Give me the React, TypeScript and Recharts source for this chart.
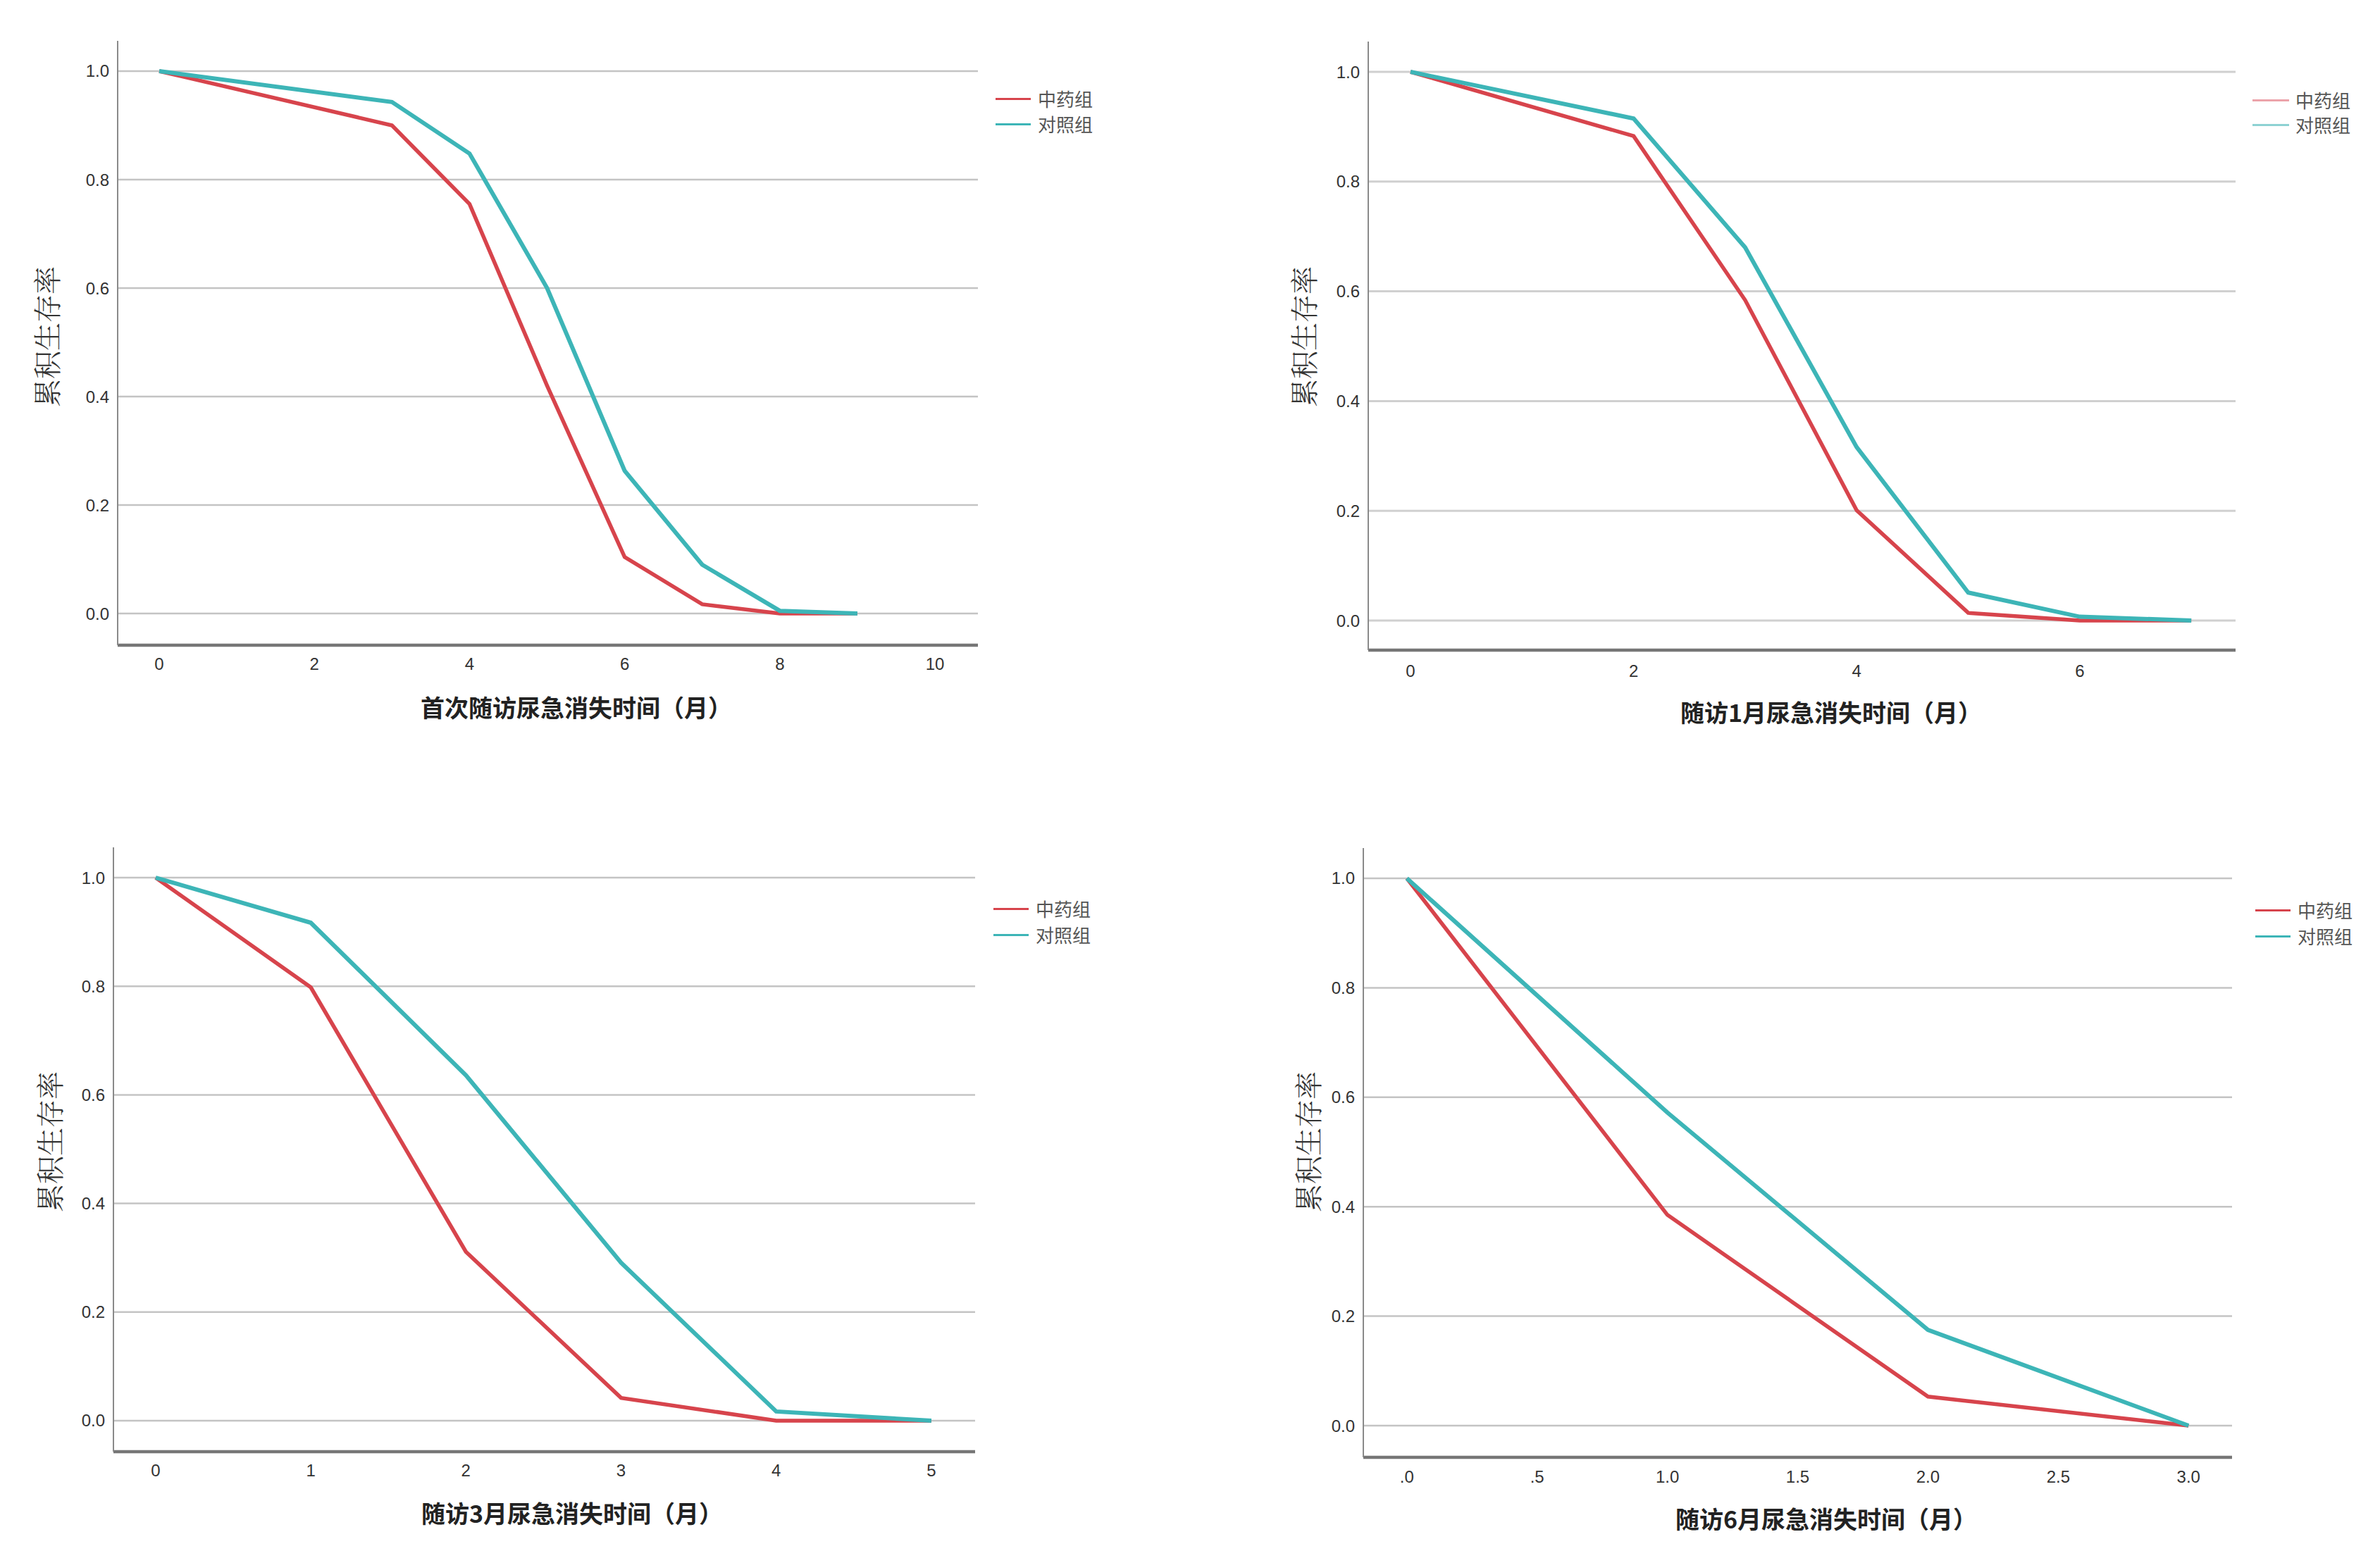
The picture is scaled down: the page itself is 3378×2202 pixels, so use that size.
import { LineChart, Line, XAxis, YAxis, ReferenceLine } from 'recharts';

const RED = '#d7444c';
const TEAL = '#3db5b7';
const groupNames = ['中药组', '对照组'];
const yTicks = [0, 0.2, 0.4, 0.6, 0.8, 1.0];

// 首次随访
const firstTimes = [0, 3, 4, 5, 6, 7, 8, 9];
const firstHerb = [1.0, 0.9, 0.755, 0.42, 0.104, 0.017, 0, 0];
const firstCtrl = [1.0, 0.943, 0.848, 0.6, 0.263, 0.09, 0.005, 0];
const firstTicks = [0, 2, 4, 6, 8, 10];

// 随访1月
const m1Times = [0, 2, 3, 4, 5, 6, 7];
const m1Herb = [1.0, 0.883, 0.584, 0.201, 0.014, 0, 0];
const m1Ctrl = [1.0, 0.915, 0.68, 0.316, 0.051, 0.007, 0];
const m1Ticks = [0, 2, 4, 6];

// 随访3月
const m3Times = [0, 1, 2, 3, 4, 5];
const m3Herb = [1.0, 0.798, 0.311, 0.042, 0, 0];
const m3Ctrl = [1.0, 0.917, 0.636, 0.291, 0.017, 0];
const m3Ticks = [0, 1, 2, 3, 4, 5];

// 随访6月
const m6Times = [0, 1, 2, 3];
const m6Herb = [1.0, 0.385, 0.053, 0];
const m6Ctrl = [1.0, 0.572, 0.175, 0];
const m6Ticks = [0, 0.5, 1, 1.5, 2, 2.5, 3];

const W = 1689;
const H = 1101;
const X_AXIS_H = 60;
const tickFont = { fill: '#333', fontSize: 24, fontFamily: '"Liberation Sans", Arial, sans-serif' };

const intFmt = (v: number) => String(v);
const halfFmt = (v: number) => (v < 1 ? (v === 0 ? '.0' : '.5') : v.toFixed(1));

const panels = [
  {
    left: 0, top: 0, times: firstTimes, herb: firstHerb, ctrl: firstCtrl,
    xTicks: firstTicks, xDomain: [-0.536, 10.554], yDomain: [-0.0584, 1.0558], xFmt: intFmt,
    margin: { left: 87, right: 301, top: 58, bottom: 125 }, xTickMargin: 18,
    title: '首次随访尿急消失时间（月）', xTitle: [818, 1004], yTitle: [65, 478],
    legend: { x: 1413, len: 50, text: 1473, y: 140, gap: 36 }, legendColors: [RED, TEAL],
    grid: '#c4c4c4', gridW: 2.5,
  },
  {
    left: W, top: 0, times: m1Times, herb: m1Herb, ctrl: m1Ctrl,
    xTicks: m1Ticks, xDomain: [-0.379, 7.397], yDomain: [-0.0539, 1.0552], xFmt: intFmt,
    margin: { left: 173, right: 205, top: 59, bottom: 118 }, xTickMargin: 21,
    title: '随访1月尿急消失时间（月）', xTitle: [910, 1011], yTitle: [160, 478],
    legend: { x: 1508, len: 52, text: 1569, y: 142, gap: 35 }, legendColors: ['#eca3aa', '#8ed2d3'],
    grid: '#d0d0d0', gridW: 3,
  },
  {
    left: 0, top: H, times: m3Times, herb: m3Herb, ctrl: m3Ctrl,
    xTicks: m3Ticks, xDomain: [-0.272, 5.282], yDomain: [-0.0571, 1.0558], xFmt: intFmt,
    margin: { left: 81, right: 305, top: 102, bottom: 81 }, xTickMargin: 18,
    title: '随访3月尿急消失时间（月）', xTitle: [812, 1047], yTitle: [69, 520],
    legend: { x: 1410, len: 50, text: 1470, y: 189, gap: 37 }, legendColors: [RED, TEAL],
    grid: '#c4c4c4', gridW: 2.5,
  },
  {
    left: W, top: H, times: m6Times, herb: m6Herb, ctrl: m6Ctrl,
    xTicks: m6Ticks, xDomain: [-0.167, 3.167], yDomain: [-0.0579, 1.0553], xFmt: halfFmt,
    margin: { left: 166, right: 210, top: 103, bottom: 73 }, xTickMargin: 19,
    title: '随访6月尿急消失时间（月）', xTitle: [903, 1055], yTitle: [166, 520],
    legend: { x: 1512, len: 50, text: 1572, y: 191, gap: 37 }, legendColors: [RED, TEAL],
    grid: '#c4c4c4', gridW: 2.5,
  },
];

function Panel({ p }: { p: any }) {
  const rows = p.times.map((t: number, i: number) => ({ t, herb: p.herb[i], ctrl: p.ctrl[i] }));
  const lg = p.legend;

  return (
    <div style={{ position: 'absolute', left: p.left, top: p.top, width: W, height: H }}>
      <LineChart width={W} height={H} data={rows} margin={p.margin}>
        <XAxis
          dataKey="t"
          type="number"
          domain={p.xDomain}
          ticks={p.xTicks}
          allowDataOverflow
          interval={0}
          height={X_AXIS_H}
          tickLine={false}
          tickSize={0}
          tickMargin={p.xTickMargin}
          tickFormatter={p.xFmt}
          tick={tickFont}
          axisLine={{ stroke: '#767676', strokeWidth: 4.5 }}
        />
        <YAxis
          type="number"
          domain={p.yDomain}
          ticks={yTicks}
          allowDataOverflow
          interval={0}
          width={80}
          tickLine={false}
          tickSize={0}
          tickMargin={12}
          tickFormatter={(v: number) => v.toFixed(1)}
          tick={tickFont}
          axisLine={{ stroke: '#8a8a8a', strokeWidth: 2 }}
        />
        {yTicks.map((v) => (
          <ReferenceLine key={v} y={v} stroke={p.grid} strokeWidth={p.gridW} ifOverflow="hidden" />
        ))}
        <Line
          type="linear"
          dataKey="herb"
          name={groupNames[0]}
          stroke={RED}
          strokeWidth={5.5}
          dot={false}
          isAnimationActive={false}
        />
        <Line
          type="linear"
          dataKey="ctrl"
          name={groupNames[1]}
          stroke={TEAL}
          strokeWidth={6}
          dot={false}
          isAnimationActive={false}
        />
      </LineChart>

      {/* legend */}
      {groupNames.map((name, i) => (
        <div
          key={name}
          style={{
            position: 'absolute',
            left: lg.x,
            top: lg.y + i * lg.gap - 18,
            height: 36,
            display: 'flex',
            alignItems: 'center',
            whiteSpace: 'nowrap',
          }}
        >
          <div style={{ width: lg.len, height: 3, background: p.legendColors[i] }} />
          <span
            style={{
              marginLeft: lg.text - lg.x - lg.len,
              fontSize: 26,
              color: '#555',
              fontFamily: '"Noto Sans CJK SC", sans-serif',
              lineHeight: '36px',
            }}
          >
            {name}
          </span>
        </div>
      ))}

      <div
        style={{
          position: 'absolute',
          left: p.xTitle[0],
          top: p.xTitle[1],
          transform: 'translate(-50%, -50%)',
          whiteSpace: 'nowrap',
          lineHeight: 1,
          fontSize: 34,
          fontWeight: 700,
          color: '#222',
          fontFamily: '"Noto Sans CJK SC", sans-serif',
        }}
      >
        {p.title}
      </div>
      <div
        style={{
          position: 'absolute',
          left: p.yTitle[0],
          top: p.yTitle[1],
          transform: 'translate(-50%, -50%) rotate(-90deg)',
          whiteSpace: 'nowrap',
          lineHeight: 1,
          fontSize: 40,
          fontWeight: 300,
          color: '#333',
          fontFamily: '"Noto Serif CJK SC", "Noto Sans CJK SC", serif',
        }}
      >
        累积生存率
      </div>
    </div>
  );
}

export default function App() {
  return (
    <div style={{ position: 'absolute', left: 0, top: 0, width: 3378, height: 2202, background: '#fff' }}>
      {panels.map((p, i) => (
        <Panel key={i} p={p} />
      ))}
    </div>
  );
}
